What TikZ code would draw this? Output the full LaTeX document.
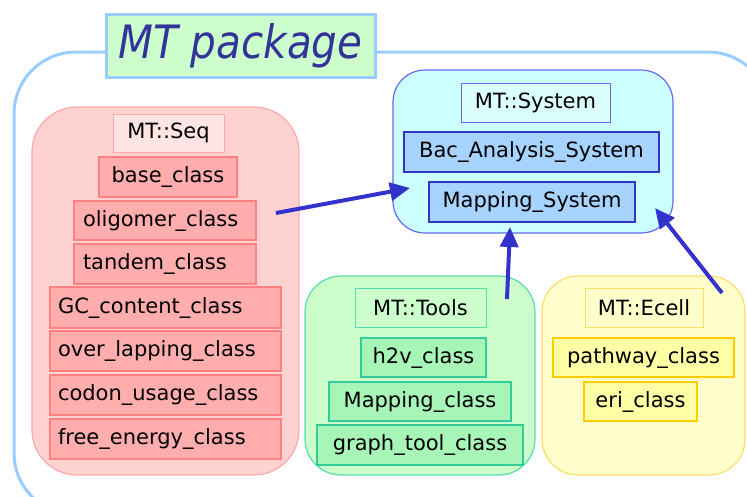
\documentclass[tikz,border=0pt]{standalone}
\usepackage{fontspec}
\setmainfont{DejaVu Sans}
\usetikzlibrary{arrows.meta}

\definecolor{frameblue}{HTML}{99CCFF}
\definecolor{titlegreen}{HTML}{CCFFCC}
\definecolor{titleink}{HTML}{333399}
\definecolor{arrowblue}{HTML}{3333CC}
% MT::System
\definecolor{sysfill}{HTML}{CCFFFF}
\definecolor{sysline}{HTML}{6666EE}
\definecolor{sysclsfill}{HTML}{A6D3FF}
\definecolor{sysclsline}{HTML}{3333CC}
% MT::Seq
\definecolor{seqfill}{HTML}{FFD2D2}
\definecolor{seqline}{HTML}{FFA8A8}
\definecolor{seqclsfill}{HTML}{FFADAD}
\definecolor{seqclsline}{HTML}{FF8080}
% MT::Tools
\definecolor{toolfill}{HTML}{CCFFCC}
\definecolor{toolline}{HTML}{55DDAA}
\definecolor{toolclsfill}{HTML}{A8F5B8}
\definecolor{toolclsline}{HTML}{33CC99}
% MT::Ecell
\definecolor{ecellfill}{HTML}{FFFFCC}
\definecolor{ecellline}{HTML}{FFDD66}
\definecolor{ecellclsfill}{HTML}{FFFFA6}
\definecolor{ecellclsline}{HTML}{FFCC00}

\tikzset{
  group/.style={rounded corners=#1, line width=1.2pt},
  lbl/.style={font=\fontsize{21}{24}\selectfont, inner sep=0pt, line width=1pt, text=black},
  cls/.style={font=\fontsize{21}{24}\selectfont, inner sep=0pt, line width=2pt, text=black},
  link/.style={draw=arrowblue, line width=4pt, -{Triangle[length=20pt,width=18pt]}},
}

\begin{document}
\begin{tikzpicture}[x=1pt,y=-1pt]
\useasboundingbox (0,0) rectangle (747,496);

% outer package frame
\begin{scope}
  \clip (0,0) rectangle (747,496);
  \draw[frameblue, line width=3pt, rounded corners=62pt] (14,52) rectangle (770,515);
\end{scope}

% title
\node[draw=frameblue, fill=titlegreen, line width=3pt, minimum width=269pt, minimum height=63pt,
      inner sep=0pt, text=titleink, font=\fontsize{46}{50}\selectfont\itshape\addfontfeature{FakeStretch=0.88}]
  (title) at (240.5,45.5) {MT package};

% MT::Seq group
\path[group=45pt, draw=seqline, fill=seqfill] (32,107) rectangle (299,475);
\node[lbl, draw=seqline, fill=seqfill!60!white, minimum width=111pt, minimum height=38pt] (seq) at (168.5,133) {MT::Seq};
\node[cls, draw=seqclsline, fill=seqclsfill, minimum width=138pt, minimum height=40pt] (base) at (168,177) {base\_class};
\node[cls, draw=seqclsline, fill=seqclsfill, minimum width=182pt, minimum height=39pt, text width=164pt, align=left] (olig) at (165,220.5) {oligomer\_class};
\node[cls, draw=seqclsline, fill=seqclsfill, minimum width=182pt, minimum height=40pt, text width=164pt, align=left] (tand) at (165,264) {tandem\_class};
\node[cls, draw=seqclsline, fill=seqclsfill, minimum width=231pt, minimum height=41pt, text width=215pt, align=left] (gc) at (165.5,307.5) {GC\_content\_class};
\node[cls, draw=seqclsline, fill=seqclsfill, minimum width=231pt, minimum height=40pt, text width=215pt, align=left] (over) at (165.5,351) {over\_lapping\_class};
\node[cls, draw=seqclsline, fill=seqclsfill, minimum width=231pt, minimum height=40pt, text width=215pt, align=left] (codon) at (165.5,395) {codon\_usage\_class};
\node[cls, draw=seqclsline, fill=seqclsfill, minimum width=231pt, minimum height=40pt, text width=215pt, align=left] (free) at (165.5,439) {free\_energy\_class};

% MT::System group
\path[group=32pt, draw=sysline, fill=sysfill] (393,70) rectangle (673,233);
\coordinate (sysW) at (410,188);
\coordinate (sysS) at (510,227);
\coordinate (sysE) at (655,208);
\node[lbl, draw=sysline, fill=sysfill!70!white, minimum width=149pt, minimum height=39pt] (sys) at (535.5,102.5) {MT::System};
\node[cls, draw=sysclsline, fill=sysclsfill, minimum width=255pt, minimum height=40pt] (bac) at (531.5,152) {Bac\_Analysis\_System};
\node[cls, draw=sysclsline, fill=sysclsfill, minimum width=206pt, minimum height=40pt] (mapsys) at (532,202) {Mapping\_System};

% MT::Tools group
\path[group=36pt, draw=toolline, fill=toolfill] (305,276) rectangle (535,475);
\coordinate (toolN) at (507,299);
\node[lbl, draw=toolline, fill=toolfill, minimum width=131pt, minimum height=39pt] (tools) at (420.5,307.5) {MT::Tools};
\node[cls, draw=toolclsline, fill=toolclsfill, minimum width=125pt, minimum height=39pt] (h2v) at (423.5,357.5) {h2v\_class};
\node[cls, draw=toolclsline, fill=toolclsfill, minimum width=182pt, minimum height=39pt] (mapcls) at (420,401.5) {Mapping\_class};
\node[cls, draw=toolclsline, fill=toolclsfill, minimum width=206pt, minimum height=40pt] (graph) at (420,445) {graph\_tool\_class};

% MT::Ecell group
\path[group=36pt, draw=ecellline, fill=ecellfill] (542,276) rectangle (745,475);
\coordinate (ecellN) at (722,293);
\node[lbl, draw=ecellline, fill=ecellfill, minimum width=118pt, minimum height=39pt] (ecell) at (644,307.5) {MT::Ecell};
\node[cls, draw=ecellclsline, fill=ecellclsfill, minimum width=181pt, minimum height=39pt] (path) at (643.5,357.5) {pathway\_class};
\node[cls, draw=ecellclsline, fill=ecellclsfill, minimum width=113pt, minimum height=39pt] (eri) at (640.5,401.5) {eri\_class};

% dependencies on MT::System
\coordinate (seqE) at (276,213);
\draw[link] (seqE) -- (sysW);
\draw[link] (toolN) -- (sysS);
\draw[link] (ecellN) -- (sysE);
\end{tikzpicture}
\end{document}
